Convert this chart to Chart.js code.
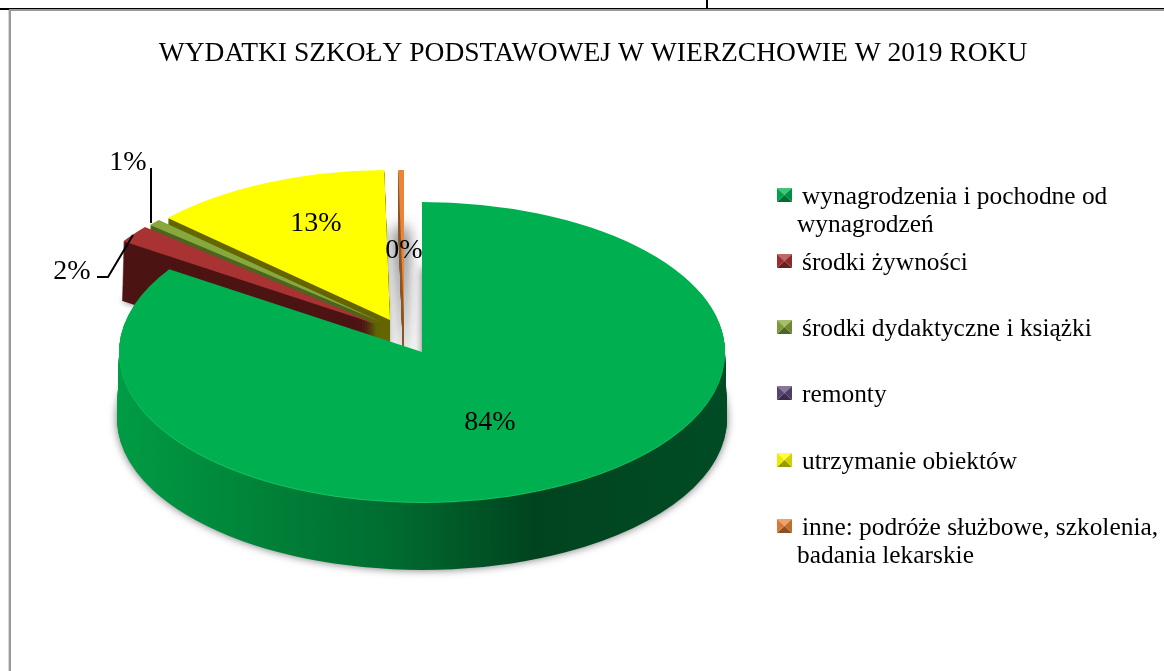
<!DOCTYPE html>
<html><head><meta charset="utf-8">
<style>html,body{margin:0;padding:0;background:#fff;overflow:hidden}canvas{display:block}</style>
<script src="https://cdn.jsdelivr.net/npm/chart.js@4/dist/chart.umd.js"></script>
</head><body><canvas id="c" width="1164" height="671"></canvas>
<script>
const titleText = 'WYDATKI SZKOŁY PODSTAWOWEJ W WIERZCHOWIE W 2019 ROKU';
const categories = ['wynagrodzenia i pochodne od wynagrodzeń','środki żywności','środki dydaktyczne i książki','remonty','utrzymanie obiektów','inne: podróże służbowe, szkolenia, badania lekarskie'];
const values = [84.3, 1.9, 0.7, 0.0, 12.8, 0.3];

const topColors  = ['#00B050','#A93333','#86A83C','#604A7B','#FFFF00','#E9843A'];
const wallColors = ['#006B30','#4D1414','#4F6420','#3A2C4A','#666600','#8A5A28'];
const sliceShift = [[0,0],[-46,-28],[-41,-30],[-32,-32],[-32,-32],[-18,-32]];
const sliceDepth = [67,60,60,60,60,60];
const shadowBlur = [8,6,6,0,7,16];
const shadowRepeat = [1,1,1,0,1,3];
const drawOrder  = [5,3,4,2,1,0];
const pieCentre  = {x:422,y:352};
const tilt = 0.495;
const labelAnchor = [[490,423],[72,272],[128,163],null,[316,224],[404,251]];
const legendLines = [['wynagrodzenia i pochodne od','wynagrodzeń'],['środki żywności'],['środki dydaktyczne i książki'],['remonty'],['utrzymanie obiektów'],['inne: podróże służbowe, szkolenia,','badania lekarskie']];
const legendTop = [188,254,320,386,453,519];
const FONT = '"Liberation Serif", serif';

function mix(hex,t){const n=parseInt(hex.slice(1),16);const f=v=>Math.round(t<0?v*(1+t):v+(255-v)*t);return `rgb(${f(n>>16)},${f((n>>8)&255)},${f(n&255)})`;}

const pie3d = {
  id:'pie3d',
  beforeDraw(chart){
    const c=chart.ctx;c.save();
    c.fillStyle='#fff';c.fillRect(0,0,1164,671);
    c.fillStyle='#D8D8D8';c.fillRect(8,9,1,662);
    c.fillStyle='#9A9A9A';c.fillRect(9,9,1155,2);c.fillRect(9,9,2,662);
    c.fillStyle='#000';c.fillRect(0,8,1164,1);c.fillRect(0,8,9,2);c.fillRect(706,0,2,8);
    c.restore();
  },
  beforeDatasetsDraw(chart){
    const c=chart.ctx, arcs=chart.getDatasetMeta(0).data;
    const paint=(arc,fill,i,k,shadow)=>{
      const orig=arc.options;
      arc.options=new Proxy(orig,{get:(t,p)=>p==='backgroundColor'?fill:t[p]});
      c.save();
      if(shadow){c.shadowColor='rgba(0,0,0,0.55)';c.shadowBlur=shadowBlur[i];}
      const grow=1+k*0.0001;
      c.translate(pieCentre.x+sliceShift[i][0],pieCentre.y+sliceShift[i][1]+k);
      c.scale(grow,tilt*grow);
      c.translate(-arc.x,-arc.y);
      arc.draw(c);
      c.restore();
      arc.options=orig;
    };
    drawOrder.forEach(i=>{
      const arc=arcs[i];
      let wall=wallColors[i];
      if(i===0){
        const g=c.createLinearGradient(arc.x-306,0,arc.x+306,0);
        g.addColorStop(0,'#009C45');g.addColorStop(0.22,'#008439');g.addColorStop(0.45,'#006C30');
        g.addColorStop(0.68,'#00441F');g.addColorStop(1,'#004C24');wall=g;
      }
      for(let n=0;n<shadowRepeat[i];n++) paint(arc,wall,i,sliceDepth[i],true);
      for(let k=sliceDepth[i]-1;k>=1;k--) paint(arc,wall,i,k,false);
      if(i===0) paint(arc,'#14C464',i,1,false);
      paint(arc,topColors[i],i,0,false);
    });
    return false;
  },
  afterDraw(chart){
    const c=chart.ctx;c.save();
    c.fillStyle='#000';c.font='28px '+FONT;c.textAlign='center';c.textBaseline='middle';
    values.forEach((v,i)=>{const a=labelAnchor[i];if(a)c.fillText(Math.round(v)+'%',a[0],a[1]);});
    c.strokeStyle='#000';c.lineWidth=2;
    c.beginPath();c.moveTo(151,168);c.lineTo(151,223);
    c.moveTo(97,277);c.lineTo(108,277);c.lineTo(133,235);c.stroke();
    // legend
    c.textAlign='left';c.textBaseline='alphabetic';c.font='25.4px '+FONT;
    legendLines.forEach((lines,i)=>{
      const x=777,y=legendTop[i],w=15,h=14,col=topColors[i];
      const tri=(pts,f)=>{c.fillStyle=f;c.beginPath();pts.forEach((p,j)=>j?c.lineTo(p[0],p[1]):c.moveTo(p[0],p[1]));c.closePath();c.fill();};
      const mx=x+w/2,my=y+h/2;
      tri([[x,y],[x+w,y],[mx,my]],mix(col,0.25));
      tri([[x,y+h],[x+w,y+h],[mx,my]],mix(col,-0.4));
      tri([[x,y],[x,y+h],[mx,my]],mix(col,-0.08));
      tri([[x+w,y],[x+w,y+h],[mx,my]],mix(col,-0.18));
      c.fillStyle='#000';
      c.fillText(lines[0],802,y+16);
      if(lines[1])c.fillText(lines[1],797,y+44);
    });
    c.restore();
  }
};

new Chart(document.getElementById('c').getContext('2d'),{
  type:'pie',
  data:{labels:categories,datasets:[{data:values,backgroundColor:topColors,borderWidth:0,radius:303}]},
  options:{
    responsive:false,animation:false,
    layout:{padding:{left:22}},
    events:[],
    plugins:{
      legend:{display:false},tooltip:{enabled:false},
      title:{display:true,text:titleText,color:'#000',font:{family:FONT,size:27.5,weight:'normal'},padding:{top:37,bottom:20}}
    }
  },
  plugins:[pie3d]
});
</script></body></html>
